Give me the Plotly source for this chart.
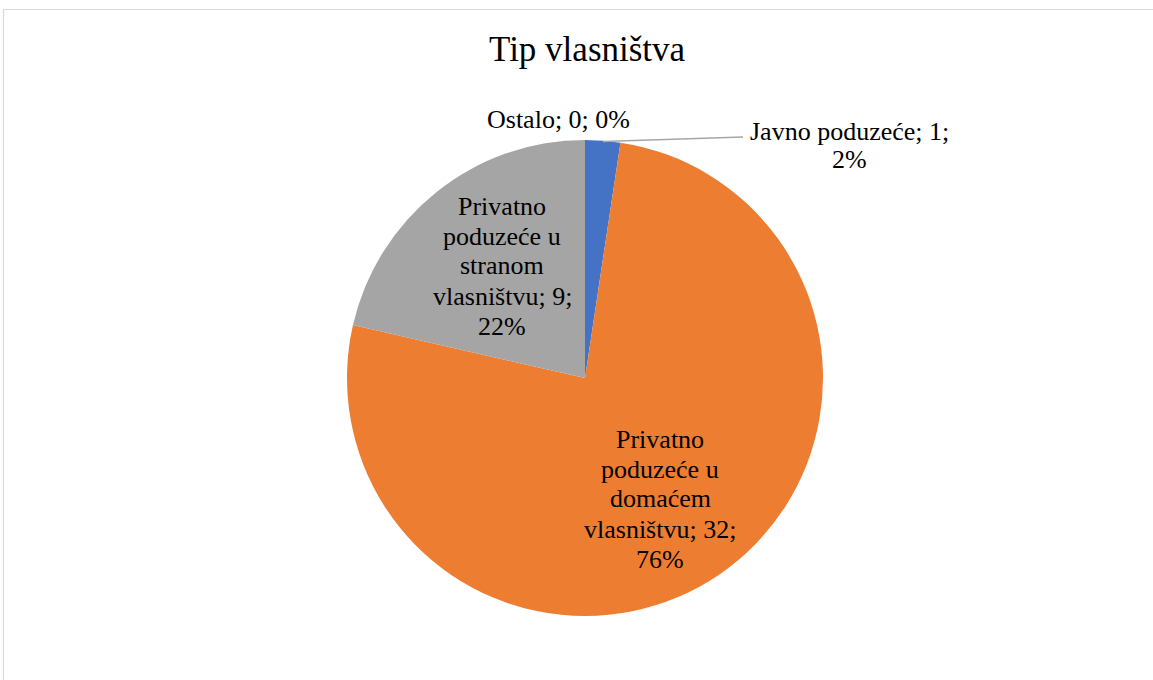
import plotly.graph_objects as go

# ---- data ----
categories = ["Javno poduzeće",
              "Privatno poduzeće u domaćem vlasništvu",
              "Privatno poduzeće u stranom vlasništvu",
              "Ostalo"]
values = [1, 32, 9, 0]
percent_labels = ["2%", "76%", "22%", "0%"]
colors = ["#4472C4", "#ED7D31", "#A5A5A5", "#FFC000"]
title_text = "Tip vlasništva"

W, H = 1153, 680
FONT = "Liberation Serif, Times New Roman, serif"

def px(x):
    return x / W

def py(y):
    return 1 - y / H

# pie geometry (pixels)
cx, cy, r = 585, 378, 238

fig = go.Figure()
fig.add_trace(go.Pie(
    labels=categories,
    values=values,
    sort=False,
    direction="clockwise",
    rotation=0,
    marker=dict(colors=colors, line=dict(width=0)),
    textinfo="none",
    showlegend=False,
    hoverinfo="label+value+percent",
    domain=dict(x=[px(cx - r), px(cx + r)], y=[py(cy + r), py(cy - r)]),
))

label_specs = [
    # index, lines, center x, first baseline y, line step
    (0, [f"{categories[0]}; {values[0]};", percent_labels[0]], 849, 140, 28),
    (1, ["Privatno", "poduzeće u", "domaćem", f"vlasništvu; {values[1]};", percent_labels[1]], 660, 448, 30),
    (2, ["Privatno", "poduzeće u", "stranom", f"vlasništvu; {values[2]};", percent_labels[2]], 502, 215, 30),
    (3, [f"{categories[3]}; {values[3]}; {percent_labels[3]}"], 558, 128, 30),
]
for idx, lines, x0, y0, step in label_specs:
    for k, line in enumerate(lines):
        yb = y0 + k * step
        fig.add_annotation(
            x=px(x0), y=py(yb - 9), xref="paper", yref="paper",
            text=line, showarrow=False, xanchor="center", yanchor="middle",
            font=dict(family=FONT, size=26, color="#000000"),
        )

# leader line for the small slice
fig.add_shape(type="line", xref="paper", yref="paper",
              x0=px(603), y0=py(141.5), x1=px(743), y1=py(137),
              line=dict(color="#A6A6A6", width=1.3))

# title
fig.add_annotation(
    x=px(587), y=py(62 - 12), xref="paper", yref="paper",
    text=title_text, showarrow=False, xanchor="center", yanchor="middle",
    font=dict(family=FONT, size=35, color="#000000"),
)

# chart frame
fig.add_shape(type="rect", xref="paper", yref="paper",
              x0=px(3.5), y0=py(700), x1=px(1200), y1=py(9.5),
              line=dict(color="#D9D9D9", width=1.2), fillcolor="rgba(0,0,0,0)")

fig.update_layout(
    width=W, height=H,
    margin=dict(l=0, r=0, t=0, b=0),
    paper_bgcolor="white",
    plot_bgcolor="white",
)

fig.write_html("out.html",
               config={"displayModeBar": False},
               post_script="document.body.style.margin='0';document.body.style.overflow='hidden';")
